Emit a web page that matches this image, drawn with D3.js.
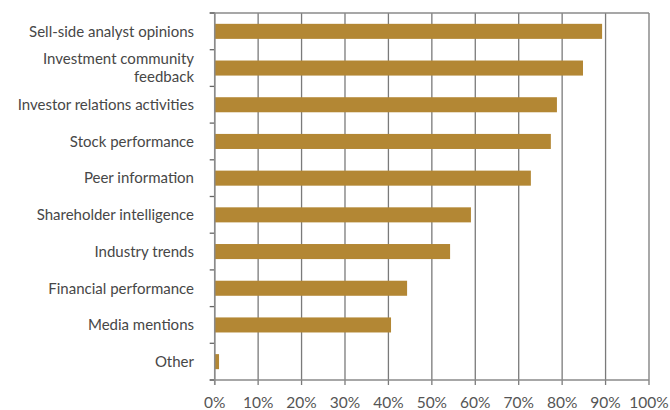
<!DOCTYPE html>
<html><head><meta charset="utf-8">
<script src="https://cdn.jsdelivr.net/npm/d3@7/dist/d3.min.js"></script>
<style>body{margin:0;background:#fff;} svg{display:block;}</style>
</head><body>
<svg id="chart" width="670" height="410"></svg>
<script>
const categories = ["Sell-side analyst opinions","Investment community\nfeedback","Investor relations activities","Stock performance","Peer information","Shareholder intelligence","Industry trends","Financial performance","Media mentions","Other"];
const values = [89.2, 84.8, 78.8, 77.4, 72.8, 59.0, 54.2, 44.3, 40.6, 1.0];
const tickValues = [0,10,20,30,40,50,60,70,80,90,100];
const tickLabels = ["0%","10%","20%","30%","40%","50%","60%","70%","80%","90%","100%"];

(function(){
const svg = d3.select("#chart");
const mL = 214.7, mR = 649, mT = 13, mB = 380;
const x = d3.scaleLinear().domain([0,100]).range([mL,mR]);
const y = d3.scaleBand().domain(categories).range([mT,mB]).paddingInner(0.59).paddingOuter(0.295);
const yb = d3.scaleBand().domain(categories).range([mT,mB]);
const font = "Lato, 'Open Sans', sans-serif";
const gridCol = "#7a7a7a";

svg.append("g").selectAll("line").data(tickValues).join("line")
  .attr("x1", d=>x(d)).attr("x2", d=>x(d)).attr("y1", mT).attr("y2", mB+5)
  .attr("stroke", gridCol).attr("stroke-width", 1.3);
svg.append("line").attr("x1", mL-5).attr("x2", mR).attr("y1", mT).attr("y2", mT)
  .attr("stroke", "#8a8a8a").attr("stroke-width", 1.5);
svg.append("line").attr("x1", mL-5).attr("x2", mR).attr("y1", mB).attr("y2", mB)
  .attr("stroke", "#8a8a8a").attr("stroke-width", 1.5);
const bounds = categories.map(c=>yb(c)).concat([mB]);
svg.append("g").selectAll("line").data(bounds).join("line")
  .attr("x1", mL-5).attr("x2", mL).attr("y1", d=>d).attr("y2", d=>d)
  .attr("stroke", "#666").attr("stroke-width", 1.3);

svg.append("g").selectAll("rect").data(categories).join("rect")
  .attr("x", x(0)).attr("y", d=>y(d)).attr("height", y.bandwidth())
  .attr("width", (d,i)=>x(values[i])-x(0)).attr("fill", "#b38734");

svg.append("line").attr("x1", mL).attr("x2", mL).attr("y1", mT).attr("y2", mB+5)
  .attr("stroke", "#8a8a8a").attr("stroke-width", 1.5);

const lab = svg.append("g").attr("font-family", font).attr("font-size", 15).attr("fill", "#474747")
  .attr("text-anchor", "end");
categories.forEach((c,i)=>{
  const lines = c.split("\n");
  const cy = yb(c) + yb.bandwidth()/2;
  const lh = 18;
  lines.forEach((t,j)=>{
    lab.append("text").attr("x", 194).attr("y", cy + (j-(lines.length-1)/2)*lh)
      .attr("dy", "0.35em").text(t);
  });
});

svg.append("g").attr("font-family", font).attr("font-size", 15.5).attr("fill", "#555")
  .attr("text-anchor", "middle")
  .selectAll("text").data(tickValues).join("text")
  .attr("x", d=>x(d)).attr("y", 408).text((d,i)=>tickLabels[i]);
})();
</script>
</body></html>
